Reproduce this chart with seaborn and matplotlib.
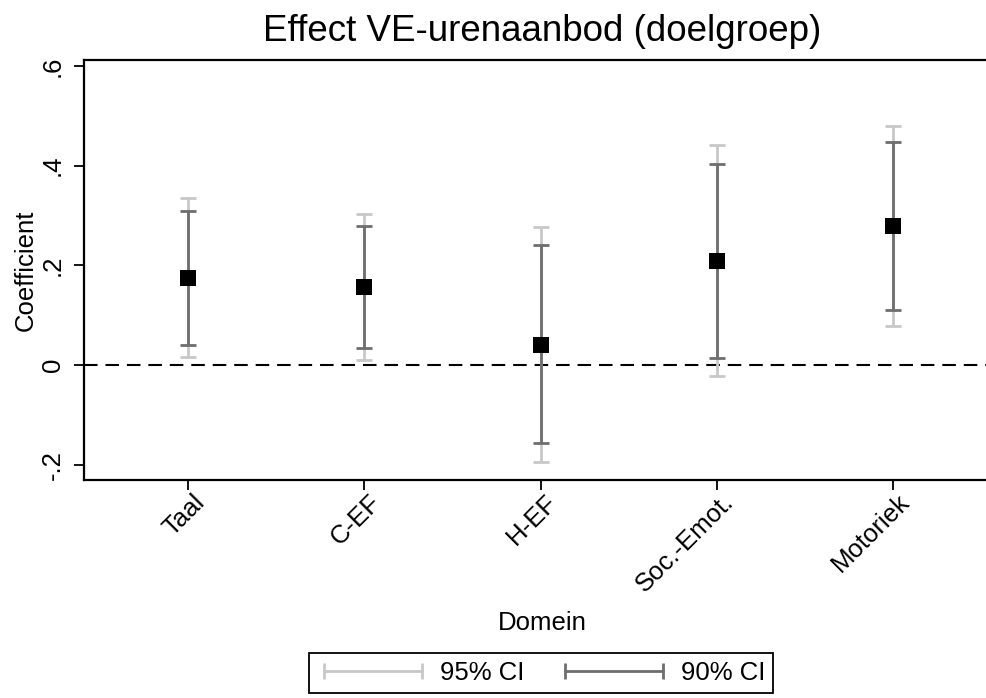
import numpy as np
import pandas as pd
import matplotlib
import matplotlib.pyplot as plt
import matplotlib.transforms as mtransforms
import seaborn as sns
from matplotlib.lines import Line2D

matplotlib.use('Agg')

# data
domains = ['Taal', 'C-EF', 'H-EF', 'Soc.-Emot.', 'Motoriek']
coef = [0.174, 0.156, 0.040, 0.209, 0.279]
ci90_lo = [0.040, 0.033, -0.157, 0.013, 0.110]
ci90_hi = [0.309, 0.279, 0.241, 0.404, 0.448]
ci95_lo = [0.015, 0.010, -0.195, -0.023, 0.078]
ci95_hi = [0.335, 0.302, 0.277, 0.442, 0.480]
yticks = [-0.2, 0, 0.2, 0.4, 0.6]
ytick_labels = ['-.2', '0', '.2', '.4', '.6']

df = pd.DataFrame({'Domein': domains, 'coef': coef,
                   'lo90': ci90_lo, 'hi90': ci90_hi,
                   'lo95': ci95_lo, 'hi95': ci95_hi})

sns.set_style('white')
plt.rcParams['font.family'] = ['Liberation Sans', 'DejaVu Sans']
plt.rcParams['text.color'] = 'black'
plt.rcParams['axes.labelcolor'] = 'black'

light = '#c8c8c8'
dark = '#6e6e6e'

fig = plt.figure(figsize=(9.86, 6.98), dpi=100)
ax = fig.add_axes([0.0852, 0.3123, 0.93, 0.6017])

x = np.arange(len(df))
# 95% CI
ax.errorbar(x, df['coef'], yerr=[df['coef'] - df['lo95'], df['hi95'] - df['coef']],
            fmt='none', ecolor=light, elinewidth=2.0, capsize=6, capthick=2.0, zorder=2)
# 90% CI
ax.errorbar(x, df['coef'], yerr=[df['coef'] - df['lo90'], df['hi90'] - df['coef']],
            fmt='none', ecolor=dark, elinewidth=2.0, capsize=6, capthick=2.0, zorder=3)
sns.scatterplot(data=df, x='Domein', y='coef', marker='s', s=120, color='black',
                edgecolor='black', linewidth=0, ax=ax, zorder=4)

ax.axhline(0, color='black', linewidth=1.5, dashes=(6.5, 3.8), zorder=1)

ax.set_xlim(-0.59, 4.61)
ax.set_ylim(-0.231, 0.612)
ax.set_yticks(yticks)
ax.set_yticklabels(ytick_labels, rotation=90, va='center')
ax.set_xticks(x)
ax.set_xticklabels(domains, rotation=45, ha='right', rotation_mode='anchor')
ax.tick_params(axis='both', direction='out', length=7, width=1.3, colors='black',
               labelsize=18.5, bottom=True, left=True)
ax.tick_params(axis='y', pad=7)
ax.tick_params(axis='x', pad=0)
shift = mtransforms.ScaledTranslation(4 / 100, 0, fig.dpi_scale_trans)
for lab in ax.get_xticklabels():
    lab.set_transform(lab.get_transform() + shift)
for side in ['left', 'bottom', 'top']:
    ax.spines[side].set_color('black')
    ax.spines[side].set_linewidth(1.6)
ax.spines['right'].set_visible(False)

ax.set_xlabel('Domein', fontsize=18.5, labelpad=10)
ax.set_ylabel('Coefficient', fontsize=18.5, labelpad=2)
ax.set_title('Effect VE-urenaanbod (doelgroep)', fontsize=26.5, pad=14, color='black')

handles = [Line2D([0], [0], color=light, lw=2.0, marker='|', markersize=12, mew=2.0),
           Line2D([0], [0], color=dark, lw=2.0, marker='|', markersize=12, mew=2.0)]
leg = fig.legend(handles, ['95% CI', '90% CI'], loc='lower center',
                 bbox_to_anchor=(541 / 986, -0.011), ncol=2, numpoints=2,
                 fontsize=18.5, handlelength=4.4, handletextpad=0.4, columnspacing=1.3,
                 fancybox=False, edgecolor='black', framealpha=1,
                 borderpad=0.3)
leg.get_frame().set_linewidth(1.3)

fig.savefig('out.png', dpi=100)
